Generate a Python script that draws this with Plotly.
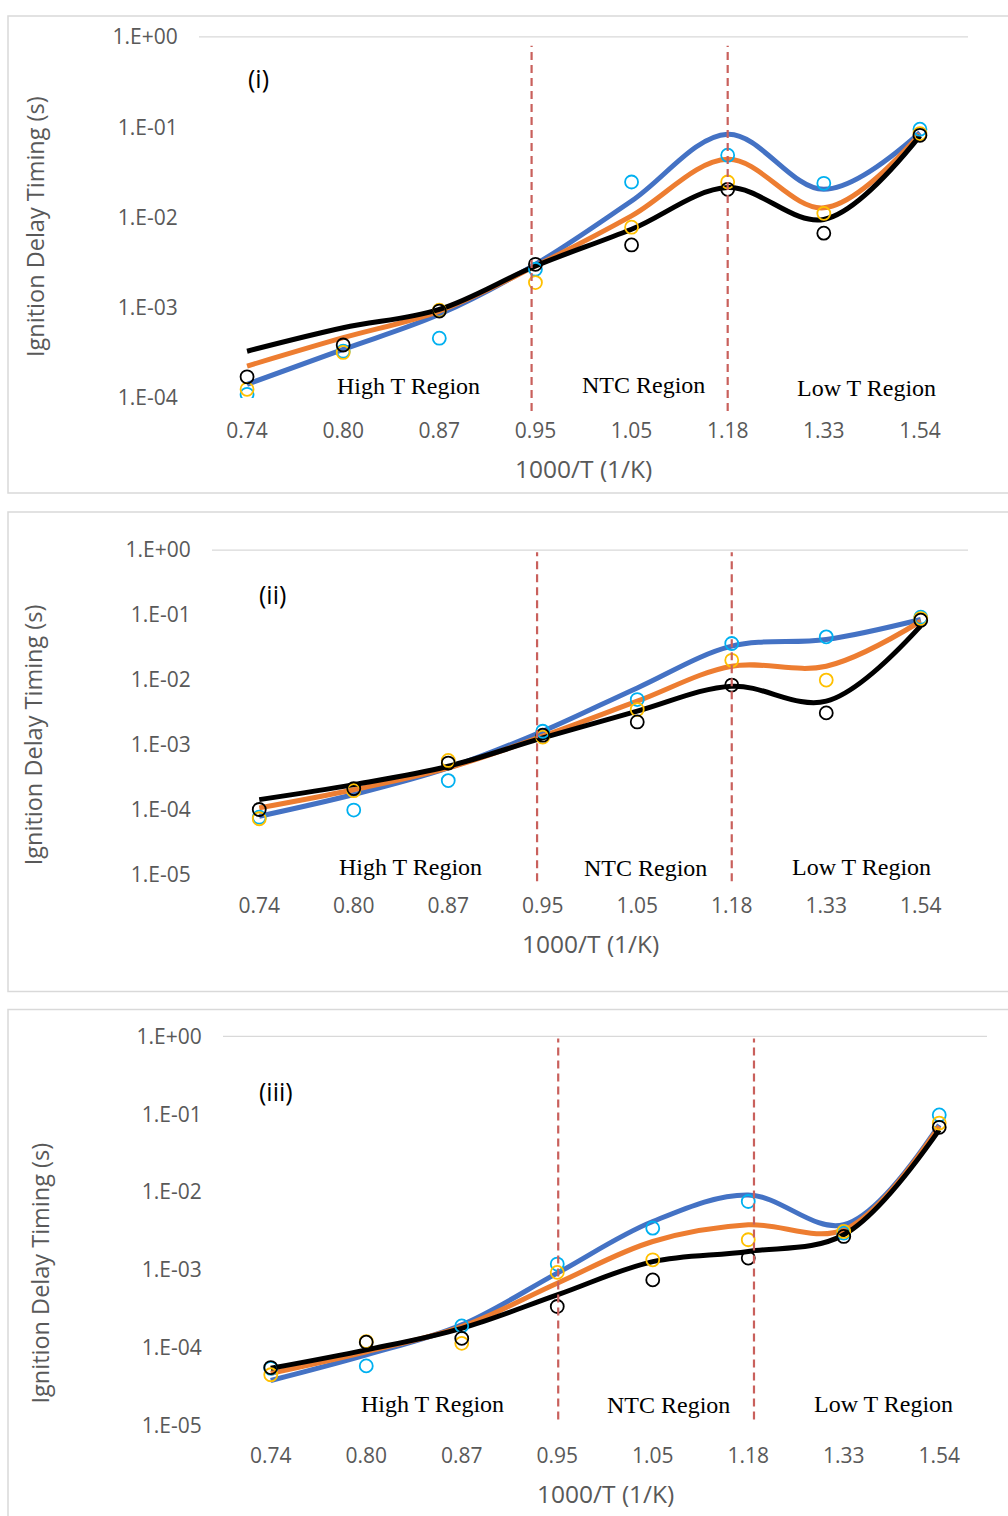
import plotly.graph_objects as go

categories = ["0.74", "0.80", "0.87", "0.95", "1.05", "1.18", "1.33", "1.54"]

# Panel (i)
p1_blue_line   = [1.42e-4, 3.46e-4, 8.46e-4, 3.03e-3, 1.52e-2, 0.0835, 0.0205, 0.087]
p1_orange_line = [2.26e-4, 4.66e-4, 9.2e-4, 2.9e-3, 1.04e-2, 0.044, 0.0128, 0.0835]
p1_black_line  = [3.3e-4, 6.0e-4, 9.6e-4, 2.9e-3, 7.4e-3, 0.0214, 9.5e-3, 0.080]
p1_cyan_pts    = [1.1e-4, 3.3e-4, 4.6e-4, 2.67e-3, 0.0247, 0.0489, 0.0239, 0.095]
p1_gold_pts    = [1.25e-4, 3.2e-4, 9.4e-4, 1.9e-3, 7.8e-3, 0.0247, 0.0111, 0.085]
p1_black_pts   = [1.72e-4, 3.87e-4, 9.2e-4, 3.03e-3, 4.96e-3, 0.0205, 6.7e-3, 0.0813]

# Panel (ii)
p2_blue_line   = [7.85e-5, 1.7e-4, 4.37e-4, 1.61e-3, 7.5e-3, 0.033, 0.0418, 0.085]
p2_orange_line = [1.06e-4, 2.02e-4, 4.37e-4, 1.35e-3, 4.68e-3, 0.0162, 0.0162, 0.080]
p2_black_line  = [1.42e-4, 2.42e-4, 4.64e-4, 1.27e-3, 3.28e-3, 7.97e-3, 4.68e-3, 0.068]
p2_cyan_pts    = [7.6e-5, 9.8e-5, 2.79e-4, 1.61e-3, 4.96e-3, 0.0363, 0.046, 0.0925]
p2_gold_pts    = [7.2e-5, 1.95e-4, 5.7e-4, 1.31e-3, 3.48e-3, 0.020, 9.9e-3, 0.088]
p2_black_pts   = [1.0e-4, 2.1e-4, 5.2e-4, 1.4e-3, 2.24e-3, 8.3e-3, 3.09e-3, 0.083]

# Panel (iii)
p3_blue_line   = [3.8e-5, 8.1e-5, 1.97e-4, 9.1e-4, 4.19e-3, 9.2e-3, 3.8e-3, 0.073]
p3_orange_line = [4.7e-5, 8.9e-5, 1.87e-4, 6.75e-4, 2.32e-3, 3.8e-3, 3.27e-3, 0.070]
p3_black_line  = [5.45e-5, 9.4e-5, 1.78e-4, 4.78e-4, 1.28e-3, 1.73e-3, 2.83e-3, 0.063]
p3_cyan_pts    = [5.45e-5, 5.85e-5, 1.91e-4, 1.19e-3, 3.44e-3, 7.57e-3, 2.97e-3, 0.098]
p3_gold_pts    = [4.5e-5, 1.2e-4, 1.14e-4, 9.3e-4, 1.35e-3, 2.44e-3, 3.12e-3, 0.077]
p3_black_pts   = [5.57e-5, 1.18e-4, 1.32e-4, 3.39e-4, 7.45e-4, 1.42e-3, 2.69e-3, 0.068]

panel_labels = ["(i)", "(ii)", "(iii)"]
region_labels = ["High T Region", "NTC Region", "Low T Region"]
y_title = "Ignition Delay Timing (s)"
x_title = "1000/T (1/K)"
p1_ticks = [1e-4, 1e-3, 1e-2, 1e-1, 1e0]
p1_ticktext = ["1.E-04", "1.E-03", "1.E-02", "1.E-01", "1.E+00"]
p23_ticks = [1e-5, 1e-4, 1e-3, 1e-2, 1e-1, 1e0]
p23_ticktext = ["1.E-05", "1.E-04", "1.E-03", "1.E-02", "1.E-01", "1.E+00"]

# boundary (dashed) positions in category units, per panel
boundaries = [[2.96, 5.0], [2.94, 5.0], [3.01, 5.06]]

W, H = 1008, 1516
# compensation for the page rendering (vertical offset / scale observed)
OFF, SC = 14.15, 0.981

def fx(px):
    return px / W

def fy(py):
    yin = (py - OFF) / SC
    yin = max(yin, 1.0)
    return 1 - yin / H

# plot area pixel boxes (left, right, top, bottom)
boxes = [(199, 968, 36, 397), (212, 968, 549, 873), (223, 987, 1035, 1424)]
frames = [(8, 1012, 8, 492), (8, 1012, 511, 990), (8, 1012, 1008, 1540)]
xtick_len = [14, 12, 11]

LINE_BLUE = "#4472C4"
LINE_ORANGE = "#ED7D31"
LINE_BLACK = "#000000"
PT_CYAN = "#00B0F0"
PT_GOLD = "#FFC000"
PT_BLACK = "#000000"

TICK_FONT = dict(family="Open Sans", size=21, color="#595959")

fig = go.Figure()

panels = [
    (p1_blue_line, p1_orange_line, p1_black_line, p1_cyan_pts, p1_gold_pts, p1_black_pts),
    (p2_blue_line, p2_orange_line, p2_black_line, p2_cyan_pts, p2_gold_pts, p2_black_pts),
    (p3_blue_line, p3_orange_line, p3_black_line, p3_cyan_pts, p3_gold_pts, p3_black_pts),
]

for i, (bl, ol, kl, cp, gp, kp) in enumerate(panels):
    sfx = "" if i == 0 else str(i + 1)
    xa, ya = "x" + sfx, "y" + sfx
    for vals, col in [(bl, LINE_BLUE), (ol, LINE_ORANGE), (kl, LINE_BLACK)]:
        fig.add_trace(go.Scatter(x=categories, y=vals, mode="lines",
                                 line=dict(color=col, width=5, shape="spline", smoothing=1.0),
                                 xaxis=xa, yaxis=ya, showlegend=False, hoverinfo="skip"))
    for vals, col in [(cp, PT_CYAN), (gp, PT_GOLD), (kp, PT_BLACK)]:
        fig.add_trace(go.Scatter(x=categories, y=vals, mode="markers",
                                 marker=dict(symbol="circle-open", size=13, color=col,
                                             line=dict(color=col, width=1.8)),
                                 xaxis=xa, yaxis=ya, showlegend=False))

layout = dict(width=W, height=H, margin=dict(l=0, r=0, t=0, b=0),
              paper_bgcolor="white", plot_bgcolor="white", showlegend=False)

shapes = []
annotations = []
for i in range(3):
    sfx = "" if i == 0 else str(i + 1)
    l, r, t, b = boxes[i]
    ticks = p1_ticks if i == 0 else p23_ticks
    ttext = p1_ticktext if i == 0 else p23_ticktext
    yr = [-4, 0] if i == 0 else [-5, 0]
    layout["xaxis" + sfx] = dict(domain=[fx(l), fx(r)], anchor="y" + sfx, type="category",
                                 range=[-0.5, 7.5], showgrid=False, showline=False, zeroline=False,
                                 ticks="outside", ticklen=xtick_len[i], tickcolor="rgba(0,0,0,0)",
                                 tickfont=TICK_FONT, fixedrange=True)
    layout["yaxis" + sfx] = dict(domain=[fy(b), fy(t)], anchor="x" + sfx, type="log",
                                 range=yr, tickvals=ticks, ticktext=ttext, showgrid=False,
                                 showline=False, zeroline=False, ticks="outside", ticklen=16,
                                 tickcolor="rgba(0,0,0,0)", tickfont=TICK_FONT, fixedrange=True)
    # top gridline
    shapes.append(dict(type="line", xref="x" + sfx + " domain", yref="y" + sfx + " domain",
                       x0=0, x1=1, y0=1, y1=1, line=dict(color="#D9D9D9", width=1.2)))
    # panel frame
    fl, fr, ft, fb = frames[i]
    shapes.append(dict(type="rect", xref="paper", yref="paper", x0=fx(fl), x1=fx(fr),
                       y0=fy(fb), y1=fy(ft), line=dict(color="#D9D9D9", width=1.5),
                       fillcolor="rgba(0,0,0,0)", layer="below"))
    # dashed boundaries
    hpx = b - t
    dash_top = {0: 45, 1: 551, 2: 1037}[i]
    dash_bot = {0: 410, 1: 880, 2: 1418}[i]
    for xb in boundaries[i]:
        shapes.append(dict(type="line", xref="x" + sfx, yref="y" + sfx + " domain",
                           x0=xb, x1=xb, y0=(b - dash_bot) / hpx, y1=(b - dash_top) / hpx,
                           line=dict(color="#C9605C", width=2.2, dash="8px,5px")))

# axis titles, panel labels and region texts (pixel positions)
ytitle_pos = [(35, 226), (33, 734), (40, 1272)]
xtitle_pos = [(583, 467), (590, 942), (605, 1492)]
plabel_pos = [(258, 77), (272, 593), (276, 1090)]
region_pos = [
    [(408, 385), (643, 384), (866, 387)],
    [(410, 866), (645, 867), (861, 866)],
    [(432, 1402), (668, 1403), (883, 1402)],
]
for i in range(3):
    annotations.append(dict(text=y_title, x=fx(ytitle_pos[i][0]), y=fy(ytitle_pos[i][1]),
                            xref="paper", yref="paper", showarrow=False, textangle=-90,
                            font=dict(family="Open Sans", size=23.5, color="#595959"),
                            xanchor="center", yanchor="middle"))
    annotations.append(dict(text=x_title, x=fx(xtitle_pos[i][0]), y=fy(xtitle_pos[i][1]),
                            xref="paper", yref="paper", showarrow=False,
                            font=dict(family="Open Sans", size=24.5, color="#595959"),
                            xanchor="center", yanchor="middle"))
    annotations.append(dict(text=panel_labels[i], x=fx(plabel_pos[i][0]), y=fy(plabel_pos[i][1]),
                            xref="paper", yref="paper", showarrow=False,
                            font=dict(family="Open Sans", size=25, color="#000000"),
                            xanchor="center", yanchor="middle"))
    for j, lab in enumerate(region_labels):
        px, py = region_pos[i][j]
        annotations.append(dict(text=lab, x=fx(px), y=fy(py), xref="paper", yref="paper",
                                showarrow=False,
                                font=dict(family="Liberation Serif", size=24, color="#000000"),
                                xanchor="center", yanchor="middle"))

layout["shapes"] = shapes
layout["annotations"] = annotations
fig.update_layout(**layout)
fig.write_html("out.html")
